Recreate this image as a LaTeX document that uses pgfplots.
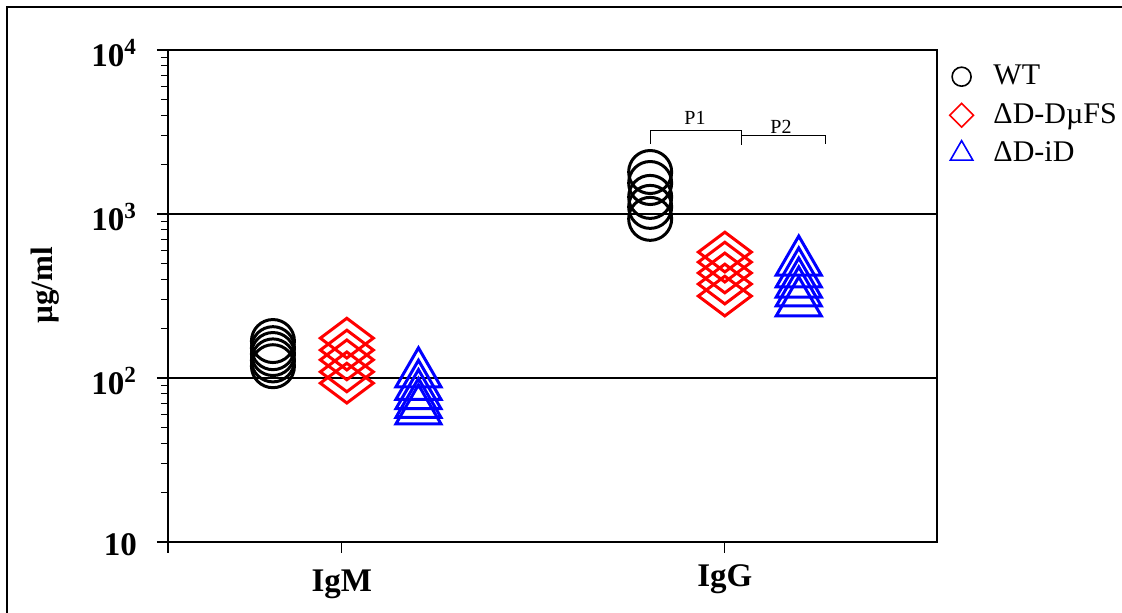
\documentclass[border=0pt]{standalone}
\usepackage{fontspec}
\setmainfont{Liberation Serif}
\usepackage{pgfplots}
\pgfplotsset{compat=1.18}
\begin{document}
\begin{tikzpicture}
\begin{scope}[x=0.5pt,y=0.5pt]
\useasboundingbox (0,0) rectangle (1122,613);
\draw[line width=1pt] (7,0) -- (7,606) -- (1122,606);
\end{scope}
\begin{axis}[
  at={(84pt,35.5pt)}, anchor=south west,
  scale only axis, width=384.5pt, height=246pt,
  xmin=0.546, xmax=2.554, ymode=log, ymin=10, ymax=10000,
  axis line style={line width=1.4pt},
  xtick={0.546,1,2}, xticklabels={,\textbf{IgM},\raisebox{2.5pt}[\height][\depth]{\textbf{IgG}}},
  ytick={10,100,1000,10000},
  yticklabels={\textbf{10},\textbf{10}\textsuperscript{\textbf{2}},\textbf{10}\textsuperscript{\textbf{3}},\textbf{10}\textsuperscript{\textbf{4}}},
  tick align=outside, tick pos=left,
  major tick length=5.5pt, minor tick length=3.5pt,
  tick style={line width=0.6pt, black},
  ymajorgrids, grid style={line width=1pt, black},
  ticklabel style={font=\fontsize{16.5}{18}\selectfont},
  xticklabel style={yshift=-5pt},
  yticklabel style={xshift=-6.5pt, yshift=-1.5pt},
  ylabel={\textbf{µg/ml}},
  ylabel style={at={(axis description cs:-0.16,0.522)}, anchor=center, rotate=0, font=\fontsize{15.5}{18}\selectfont},
  legend style={at={(axis description cs:1.016,0.975)}, anchor=north west, draw=none, fill=none,
    font=\fontsize{15}{18}\selectfont, row sep=5.25pt, column sep=10pt, inner sep=0pt,
    nodes={inner sep=0pt, text height=11pt, text depth=3pt}},
  legend cell align=left,
  clip=false,
]
\addplot[only marks, mark=o, mark size=10.75pt, black, mark options={line width=1.5pt}, forget plot]
  coordinates {(0.82,118) (0.82,128) (0.82,140) (0.82,152) (0.82,168)
               (1.805,934) (1.805,1105) (1.805,1271) (1.805,1545) (1.805,1803)};
\addplot[only marks, mark=diamond, mark size=13.25pt, red, mark options={rotate=90, line width=1.5pt}, forget plot]
  coordinates {(1.013,93) (1.013,109) (1.013,129) (1.013,148) (1.013,175)
               (2.0,316) (2.0,374) (2.0,437) (2.0,509) (2.0,586)};
\addplot[only marks, mark=triangle, mark size=13pt, blue, mark options={line width=1.5pt}, forget plot]
  coordinates {(1.2,63) (1.2,69) (1.2,78) (1.2,89) (1.2,106)
               (2.193,287) (2.193,330) (2.193,374) (2.193,431) (2.193,509)};
\addlegendimage{only marks, mark=o, mark size=4.75pt, black, mark options={line width=0.8pt}}
\addlegendentry{WT}
\addlegendimage{only marks, mark=square, mark size=4.2pt, red, mark options={rotate=45, line width=0.8pt}}
\addlegendentry{ΔD-DµFS}
\addlegendimage{only marks, mark=triangle, mark size=6.5pt, blue, mark options={line width=0.8pt}}
\addlegendentry{ΔD-iD}
\end{axis}
\begin{scope}[x=0.5pt,y=0.5pt, line width=0.5pt]
\draw (650,613-144) -- (650,613-131) -- (741,613-131) -- (741,613-145);
\draw (741,613-136) -- (825,613-136) -- (825,613-144);
\node[font=\fontsize{10}{12}\selectfont] at (695,613-118) {P1};
\node[font=\fontsize{10}{12}\selectfont] at (781,613-127) {P2};
\end{scope}
\end{tikzpicture}
\end{document}
